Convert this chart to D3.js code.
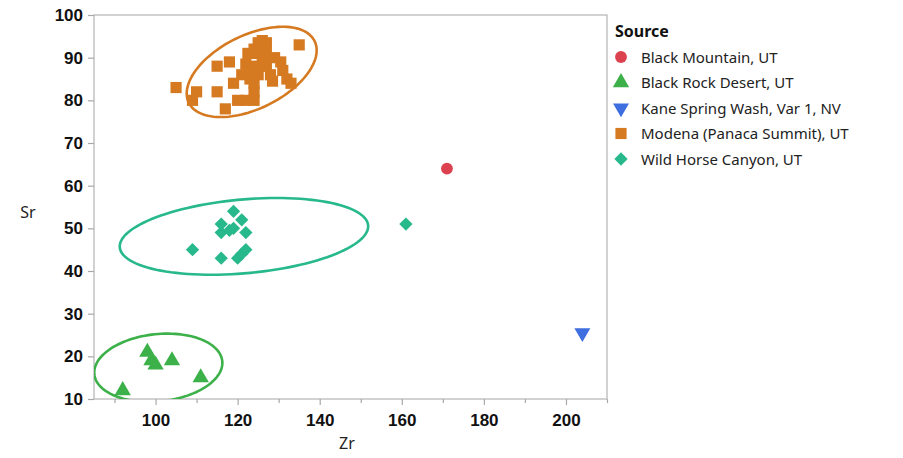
<!DOCTYPE html>
<html>
<head>
<meta charset="utf-8">
<script src="https://cdn.jsdelivr.net/npm/d3@7"></script>
<style>
  body { margin: 0; background: #fff; }
  svg { display: block; font-family: "Noto Sans", "Open Sans", sans-serif; }
  .tick-label { font-weight: bold; font-size: 17px; fill: #111; }
  .axis-title { font-size: 16px; fill: #222; }
  .legend-title { font-weight: bold; font-size: 16px; fill: #111; }
  .legend-text { font-size: 15px; fill: #222; }
</style>
</head>
<body>
<svg class="js-render-chart" width="903" height="458"></svg>
<script>
"use strict";

//data

const sources = [
  "Black Mountain, UT",
  "Black Rock Desert, UT",
  "Kane Spring Wash, Var 1, NV",
  "Modena (Panaca Summit), UT",
  "Wild Horse Canyon, UT"
];

//[Zr, Sr] pairs per source

const blackMountain = [[171, 64]];

const blackRock = [[92, 12], [98, 21], [99, 19], [100, 18], [104, 19], [111, 15]];

const kaneSpring = [[204, 25.5]];

const modena = [
  [105, 83], [109, 80], [110, 82], [115, 82], [115, 88], [117, 78], [118, 89],
  [119, 84], [120, 80], [122, 80], [124, 82], [124, 80], [122, 88.5], [122.5, 91],
  [123, 85], [124, 92], [125, 93.5], [126, 94], [125, 91], [127, 93.5], [127, 90],
  [124.5, 88], [127, 88], [125, 86], [128, 86], [128.5, 84.5], [130.5, 89], [131, 87],
  [132, 85], [133, 84], [135, 93], [121, 86], [123, 87], [126, 88], [127, 91],
  [129, 90], [124, 84], [126, 90]
];

const wildHorse = [
  [109, 45], [116, 43], [116, 49], [116, 51], [119, 54], [121, 52], [119, 50],
  [118, 49.5], [122, 49], [120, 43], [121, 44], [122, 45], [161, 51]
];

const series = [blackMountain, blackRock, kaneSpring, modena, wildHorse];

//ticks

const zrTicks = [100, 120, 140, 160, 180, 200];
const zrMinor = [90, 110, 130, 150, 170, 190, 210];
const srTicks = [10, 20, 30, 40, 50, 60, 70, 80, 90, 100];

//styles

const colors = ["#dc4150", "#3cb049", "#3f6ee0", "#d67a22", "#27b88b"];
const shapes = ["circle", "triangle", "down", "square", "diamond"];

//symbol path

const symbolPath = (shape) => {

  const gen = {
    circle: d3.symbol(d3.symbolCircle, 110),
    triangle: d3.symbol(d3.symbolTriangle, 115),
    down: d3.symbol(d3.symbolTriangle, 110),
    square: d3.symbol(d3.symbolSquare, 125),
    diamond: d3.symbol(d3.symbolSquare, 88)
  };

  return gen[shape]();

};

const symbolRotate = (shape) => shape === "down" ? 180 : shape === "diamond" ? 45 : 0;

//95% density ellipse from sample covariance

const densityEllipse = (pts) => {

  const n = pts.length;
  const mx = d3.mean(pts, (d) => d[0]);
  const my = d3.mean(pts, (d) => d[1]);

  const sxx = d3.sum(pts, (d) => (d[0] - mx) ** 2) / (n - 1);
  const syy = d3.sum(pts, (d) => (d[1] - my) ** 2) / (n - 1);
  const sxy = d3.sum(pts, (d) => (d[0] - mx) * (d[1] - my)) / (n - 1);

  //cholesky

  const l11 = Math.sqrt(sxx);
  const l21 = sxy / l11;
  const l22 = Math.sqrt(Math.max(syy - l21 * l21, 0));

  const c = Math.sqrt(5.991);

  return d3.range(0, 361, 3).map((deg) => {
    const t = deg * Math.PI / 180;
    const u = Math.cos(t);
    const v = Math.sin(t);
    return [mx + c * l11 * u, my + c * (l21 * u + l22 * v)];
  });

};

//render chart

const renderChart = () => {

  const left = 94;
  const right = 607;
  const top = 15;
  const bottom = 399;

  const x = d3.scaleLinear().domain([85, 210]).range([left, right]);
  const y = d3.scaleLinear().domain([10, 100]).range([bottom, top]);

  const svg = d3.select(".js-render-chart");

  //clip

  svg.append("defs")
    .append("clipPath")
    .attr("id", "plot-clip")
    .append("rect")
    .attr("x", left)
    .attr("y", top)
    .attr("width", right - left)
    .attr("height", bottom - top);

  //frame

  svg.append("rect")
    .attr("x", left)
    .attr("y", top)
    .attr("width", right - left)
    .attr("height", bottom - top)
    .attr("fill", "none")
    .attr("stroke", "#b4b4b4")
    .attr("stroke-width", 1.2);

  //x axis

  const xAxis = svg.append("g")
    .attr("transform", `translate(0, ${bottom})`)
    .call(d3.axisBottom(x).tickValues(zrTicks).tickSize(6).tickPadding(9));

  svg.append("g")
    .attr("transform", `translate(0, ${bottom})`)
    .call(d3.axisBottom(x).tickValues(zrMinor).tickSize(4).tickFormat(""));

  //y axis

  const yAxis = svg.append("g")
    .attr("transform", `translate(${left}, 0)`)
    .call(d3.axisLeft(y).tickValues(srTicks).tickSize(6).tickPadding(5));

  svg.selectAll(".domain").remove();
  svg.selectAll(".tick line").attr("stroke", "#a8a8a8").attr("stroke-width", 1.2);

  xAxis.selectAll("text").attr("class", "tick-label").attr("font-size", null).attr("font-family", null);
  yAxis.selectAll("text").attr("class", "tick-label").attr("font-size", null).attr("font-family", null);

  //axis titles

  svg.append("text")
    .attr("class", "axis-title")
    .attr("x", 28)
    .attr("y", 218)
    .attr("text-anchor", "middle")
    .text("Sr");

  svg.append("text")
    .attr("class", "axis-title")
    .attr("x", 347)
    .attr("y", 449)
    .attr("text-anchor", "middle")
    .text("Zr");

  //ellipses

  const line = d3.line()
    .x((d) => x(d[0]))
    .y((d) => y(d[1]))
    .curve(d3.curveLinearClosed);

  const plot = svg.append("g").attr("clip-path", "url(#plot-clip)");

  series.forEach((pts, i) => {
    if (pts.length < 3) return;
    plot.append("path")
      .attr("d", line(densityEllipse(pts)))
      .attr("fill", "none")
      .attr("stroke", colors[i])
      .attr("stroke-width", 2.6);
  });

  //markers

  series.forEach((pts, i) => {
    svg.append("g")
      .selectAll("path")
      .data(pts)
      .enter()
      .append("path")
      .attr("d", symbolPath(shapes[i]))
      .attr("transform", (d) => `translate(${x(d[0])}, ${y(d[1])}) rotate(${symbolRotate(shapes[i])})`)
      .attr("fill", colors[i]);
  });

  //legend

  const legend = svg.append("g").attr("transform", "translate(615, 0)");

  legend.append("text")
    .attr("class", "legend-title")
    .attr("x", 0)
    .attr("y", 37)
    .text("Source");

  const item = legend.selectAll(".item")
    .data(sources)
    .enter()
    .append("g")
    .attr("transform", (d, i) => `translate(0, ${57 + i * 25.5})`);

  item.append("path")
    .attr("d", (d, i) => symbolPath(shapes[i]))
    .attr("transform", (d, i) => `translate(6, 0) rotate(${symbolRotate(shapes[i])})`)
    .attr("fill", (d, i) => colors[i]);

  item.append("text")
    .attr("class", "legend-text")
    .attr("x", 26)
    .attr("y", 5.5)
    .text((d) => d);

};

renderChart();
</script>
</body>
</html>
